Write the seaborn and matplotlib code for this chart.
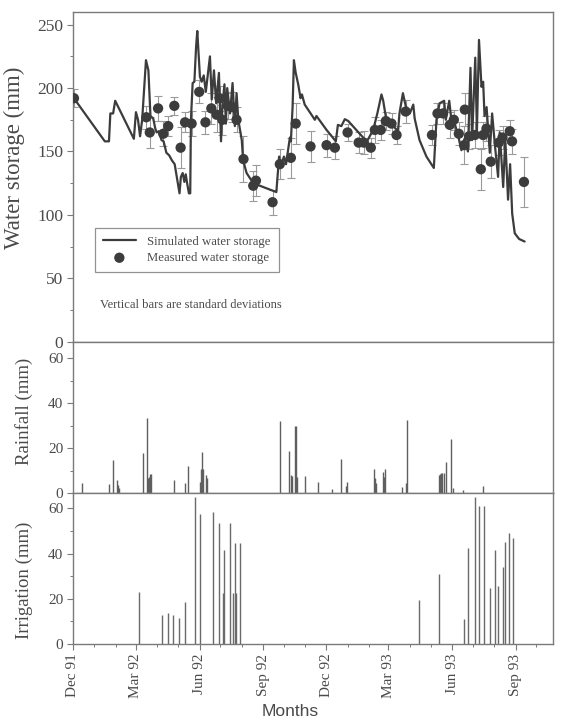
import numpy as np
import pandas as pd
import matplotlib
matplotlib.use("Agg")
import matplotlib.pyplot as plt
import matplotlib.dates as mdates
from matplotlib.ticker import MultipleLocator
import seaborn as sns

START = pd.Timestamp("1991-12-01")

# Simulated soil water storage (days after 1 Dec 1991, mm)
sim_day = [0, 46, 52, 54, 58, 61, 88, 91, 94, 97,
           100, 103, 105.5, 109, 112, 116, 119, 121, 124, 128,
           131, 135, 139, 143, 147, 150, 154, 156, 158.6, 161,
           163, 165, 167.6, 169.5, 170.5, 173, 175.5, 178, 179.7, 183.5,
           186, 189, 192, 198, 200.6, 203.8, 207, 211, 214, 216,
           219, 221, 223, 227, 230.7, 234, 236.5, 239, 244, 246,
           251, 260.6, 294, 298, 300, 305, 308, 313.6, 315, 317.5,
           319.4, 322, 325.6, 329, 331, 335, 349.7, 352, 366.6, 380,
           383, 388, 393, 398, 419.5, 424, 434, 440, 446, 448.5,
           453, 458, 463, 470, 472, 477, 481, 487, 492, 494,
           501, 511, 521.7, 525.5, 530, 536.6, 539, 544, 547, 552,
           557, 561.6, 566, 571, 574.7, 577, 581.6, 584, 587, 590.6,
           593, 595, 598, 602.6, 606, 610, 614.6, 617, 622, 625,
           629, 632, 635, 638.7, 645, 653]
sim_mm = [193, 158, 158, 180, 180, 190, 160, 181, 175, 162,
          175, 200, 222, 214, 178, 176, 168, 165, 166, 159,
          158, 149, 147, 143, 140, 130, 117, 130, 133, 126,
          132, 125, 117, 117, 175, 204, 205, 233, 245, 209,
          205, 210, 197, 225, 191, 214, 188, 212, 158, 186,
          203, 172, 200, 180, 204, 170, 196, 175, 159, 143,
          133, 125, 118, 146, 138, 146, 140, 161, 158, 185,
          222, 212, 203, 192, 195, 187, 175, 178, 167, 158,
          171, 170, 175.5, 174, 161, 157, 167, 180, 195, 190,
          175, 172, 170, 166, 180, 196, 186, 180, 187, 176,
          159, 146, 137, 175, 188, 190, 175, 190, 175, 172,
          162, 151, 160, 150, 216, 159, 224, 166, 238, 201,
          205, 178, 185, 149, 180, 155, 130, 165, 122, 160,
          112, 140, 101, 85.5, 81, 79]

# Measured water storage and its standard deviation (mm)
obs_day = [1.4, 106, 111, 123, 130.5, 137.7, 146.5, 155.6, 162, 171.5,
           182.5, 191.5, 200, 207.6, 212, 216, 223.6, 230, 236.5, 246.5,
           260.6, 264.5, 288.5, 299, 315, 322, 343.4, 366.6, 378.6, 397,
           413, 420.5, 430.6, 436.4, 445, 452.3, 460.5, 467.8, 481, 519,
           527, 535, 544.8, 550.6, 557.8, 565.5, 566.5, 572.7, 581, 589.6,
           593, 597.8, 604, 615.6, 621, 631.5, 634.8, 652]
obs_mm = [192, 177, 165, 184, 164, 170, 186, 153, 173, 172,
          197, 173, 184, 179, 192, 175, 186, 185, 175, 144,
          123, 127, 110, 140, 145, 172, 154, 155, 153, 165,
          157, 157, 153, 167, 167, 174, 172, 163, 181.5, 163,
          180, 180, 171, 175, 164, 155, 183, 162, 163, 136,
          163, 168, 142, 157, 161, 166, 158, 126]
obs_sd = [7, 9, 12, 10, 10, 8, 7, 16, 8, 10,
          9, 9, 12, 14, 10, 12, 10, 12, 10, 18,
          12, 12, 10, 12, 16, 16, 12, 9, 9, 7,
          8, 9, 8, 10, 8, 7, 8, 7, 9, 8,
          8, 8, 10, 8, 9, 15, 13, 10, 10, 16,
          10, 10, 13, 10, 9, 9, 10, 20]

# Daily rainfall events (mm)
rain_day = [12.5, 52, 58, 63, 64.5, 66, 101.6, 107.4, 109, 110.3,
            111.6, 113, 146, 162, 166.6, 183.5, 185, 186, 187.5, 192,
            193.6, 300, 312.6, 315, 316.5, 321, 322.5, 324.5, 335.5, 354.5,
            374, 386.8, 394.5, 396.6, 435, 437, 438.5, 447.5, 449, 451,
            475, 481, 483, 529, 530.5, 532, 534, 536, 539, 547,
            549, 564, 593]
rain_mm = [4.7, 4, 15, 6, 3.7, 2.5, 17.8, 33.6, 7, 7.4,
           8.4, 8.4, 5.9, 4.4, 12, 5.2, 11, 18.2, 11, 8,
           6.7, 32, 18.8, 8, 7.7, 30, 30, 7.4, 7.5, 5,
           2, 15.3, 3.3, 5.2, 11, 6.7, 4.4, 9.6, 7.4, 11,
           2.7, 4.4, 32.5, 8, 8.4, 9, 9, 9, 14, 24,
           2.2, 1.5, 3.3]

# Irrigation applications (mm)
irr_day = [95.4, 128.6, 137.3, 144, 153, 161.8, 176.3, 183.5, 202.7, 211.4,
           217, 218.7, 227, 230.8, 233.6, 236, 241,
           500, 529.4, 565.5, 571, 581, 587, 594, 602.6, 610,
           615, 622, 624.3, 630, 636]
irr_mm = [23, 13, 13.5, 13, 11.5, 18.5, 65, 57.5, 58.5, 53.5,
          22.5, 41.5, 53.5, 22.5, 44.5, 22.5, 44.5,
          19.6, 31, 11, 42.5, 65, 61, 61, 25, 41.7,
          25.5, 34, 45, 49, 47]

tick_dates = ["1991-12-01", "1992-03-01", "1992-06-01", "1992-09-01",
              "1992-12-01", "1993-03-01", "1993-06-01", "1993-09-01"]
tick_labels = ["Dec 91", "Mar 92", "Jun 92", "Sep 92",
               "Dec 92", "Mar 93", "Jun 93", "Sep 93"]


def to_date(days):
    return START + pd.to_timedelta(np.asarray(days, dtype=float), unit="D")


sim = pd.DataFrame({"date": to_date(sim_day), "storage": sim_mm})
obs = pd.DataFrame({"date": to_date(obs_day), "storage": obs_mm, "sd": obs_sd})
rain = pd.DataFrame({"date": to_date(rain_day), "mm": rain_mm})
irr = pd.DataFrame({"date": to_date(irr_day), "mm": irr_mm})

sns.set_theme(style="ticks")
plt.rcParams["font.family"] = ["Liberation Serif", "DejaVu Serif"]
plt.rcParams["axes.edgecolor"] = "#7a7a7a"
plt.rcParams["axes.linewidth"] = 1.0
plt.rcParams["text.color"] = "#4a4a4a"
plt.rcParams["axes.labelcolor"] = "#4a4a4a"

INK = "#3c3c3c"
TXT = "#4a4a4a"

fig = plt.figure(figsize=(5.61, 7.27), dpi=100)
L, W = 73 / 561, 480 / 561
ax1 = fig.add_axes([L, 1 - 341.7 / 727, W, 329.7 / 727])
ax2 = fig.add_axes([L, 1 - 493.3 / 727, W, 151.6 / 727], sharex=ax1)
ax3 = fig.add_axes([L, 1 - 644 / 727, W, 150.7 / 727], sharex=ax1)

# --- water storage panel
ax1.errorbar(obs["date"], obs["storage"], yerr=obs["sd"], fmt="none",
             ecolor="#9a9a9a", elinewidth=0.8, capsize=3, capthick=0.8, zorder=1)
sns.lineplot(data=sim, x="date", y="storage", ax=ax1, color=INK, lw=1.6,
             label="Simulated water storage", zorder=2)
sns.scatterplot(data=obs, x="date", y="storage", ax=ax1, color=INK, s=55,
                edgecolor="none", label="Measured water storage", zorder=3)
ax1.set_ylim(0, 260)
ax1.yaxis.set_major_locator(MultipleLocator(50))
ax1.yaxis.set_minor_locator(MultipleLocator(25))
leg = ax1.legend(loc="upper left", bbox_to_anchor=(0.046, 0.345), frameon=True,
                 fancybox=False, edgecolor="#777777", fontsize=9.2,
                 handlelength=2.6, borderpad=0.6, labelspacing=0.35,
                 handletextpad=0.9, borderaxespad=0)
leg.get_frame().set_linewidth(0.9)
for t in leg.get_texts():
    t.set_color(TXT)
ax1.text((100 - 73) / 480, (341.7 - 305) / 329.7,
         "Vertical bars are standard deviations", transform=ax1.transAxes,
         fontsize=9, ha="left", va="center", color=TXT)
ax1.set_ylabel("Water storage (mm)", fontsize=16.5)

# --- rainfall panel
ax2.vlines(rain["date"], 0, rain["mm"], color="#5f5f5f", lw=1.0)
ax2.set_ylim(0, 67.4)
ax2.set_ylabel("Rainfall (mm)", fontsize=13.5)

# --- irrigation panel
ax3.vlines(irr["date"], 0, irr["mm"], color="#6a6a6a", lw=1.0)
ax3.set_ylim(0, 66.7)
ax3.set_ylabel("Irrigation (mm)", fontsize=13.5)

for ax in (ax2, ax3):
    ax.yaxis.set_major_locator(MultipleLocator(20))
    ax.yaxis.set_minor_locator(MultipleLocator(10))

ax3.set_xlim(START, START + pd.Timedelta(days=694))
ax3.set_xticks(pd.to_datetime(tick_dates))
ax3.set_xticklabels(tick_labels, rotation=90)
ax3.xaxis.set_minor_locator(mdates.MonthLocator())

for ax, ls in ((ax1, 12.5), (ax2, 11), (ax3, 11)):
    ax.set_xlabel("")
    for s in ax.spines.values():
        s.set_visible(True)
        s.set_color("#7a7a7a")
    ax.tick_params(axis="both", which="major", direction="out", length=4,
                   width=0.8, color="#7a7a7a", labelcolor=TXT, labelsize=ls, pad=3)
    ax.tick_params(axis="both", which="minor", direction="out", length=2.5,
                   width=0.7, color="#7a7a7a")
ax1.tick_params(labelbottom=False)
ax2.tick_params(labelbottom=False)
ax3.tick_params(axis="x", labelsize=11)

ax1.yaxis.set_label_coords(-0.10, 0.557)
ax2.yaxis.set_label_coords(-0.083, 0.54)
ax3.yaxis.set_label_coords(-0.083, 0.42)

fig.text(290 / 561, 1 - 712 / 727, "Months", family="Liberation Sans",
         fontsize=12.5, ha="center", va="center", color=TXT)

fig.savefig("out.png", dpi=100)
